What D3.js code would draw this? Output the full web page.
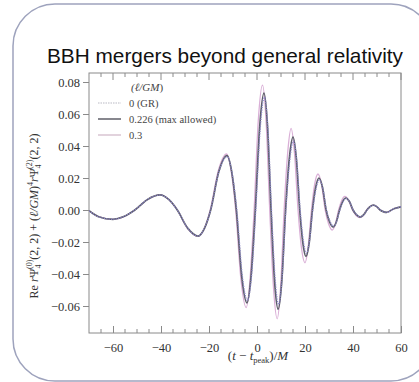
<!DOCTYPE html>
<html>
<head>
<meta charset="utf-8">
<script src="https://cdn.jsdelivr.net/npm/d3@7/dist/d3.min.js"></script>
<style>
  html, body { margin: 0; padding: 0; background: #fff; }
  svg { display: block; }
</style>
</head>
<body>
<svg id="chart" width="419" height="382"></svg>
<script>
// Waveform samples: time (t - t_peak)/M and Re rPsi4 for each coupling value
const tGR = [-70,-66,-60,-55.5,-50.9,-45.6,-40.4,-36.8,-33.2,-28.8,-24.5,-21.9,-19.3,-15.9,-12.4,-10.4,-8.4,-6.2,-4.0,-2.2,-0.5,1.3,3.1,4.6,6.05,7.5,9.0,10.5,12.05,13.6,15.2,16.6,18.0,19.3,20.6,21.9,23.25,24.6,25.95,27.45,28.95,30.4,31.85,33.2,34.5,35.8,37.1,38.6,40.1,41.6,43.1,44.5,45.9,47.2,48.6,50.0,51.4,52.7,54.1,57,60];
const vGR = [-0.0005,-0.0042,-0.0058,-0.0041,0,0.0066,0.0094,0.0066,0,-0.0115,-0.0163,-0.0115,0,0.0237,0.0334,0.0233,0,-0.040,-0.0566,-0.040,0,0.050,0.0706,0.050,0,-0.0417,-0.059,-0.0417,0,0.0304,0.043,0.0304,0,-0.0191,-0.027,-0.0191,0,0.0133,0.0188,0.0133,0,-0.0071,-0.0101,-0.0071,0,0.0051,0.0072,0.0051,0,-0.0030,-0.0043,-0.0030,0,0.0021,0.0030,0.0021,0,-0.0010,-0.0015,0.0008,0.0020];

const tMid = [-70,-66,-60,-55.5,-50.9,-45.6,-40.4,-36.8,-33.2,-28.8,-24.5,-21.9,-19.3,-15.9,-12.5,-10.55,-8.6,-6.4,-4.2,-2.45,-0.7,1.1,2.9,4.4,5.85,7.3,8.8,10.35,11.9,13.45,15,16.4,17.8,19.1,20.4,21.75,23.1,24.45,25.8,27.3,28.8,30.25,31.7,33.05,34.4,35.7,37,38.5,40,41.5,43,44.4,45.8,47.1,48.5,49.9,51.3,52.6,54,57,60];
const vMid = [-0.0005,-0.0042,-0.0058,-0.0041,0,0.0066,0.0094,0.0066,0,-0.0115,-0.0163,-0.0115,0,0.024,0.034,0.024,0,-0.041,-0.058,-0.041,0,0.0516,0.073,0.0516,0,-0.044,-0.062,-0.044,0,0.032,0.0456,0.032,0,-0.0205,-0.029,-0.0205,0,0.0141,0.020,0.0141,0,-0.0075,-0.0106,-0.0075,0,0.0053,0.0075,0.0053,0,-0.0031,-0.0044,-0.0031,0,0.0021,0.0030,0.0021,0,-0.0010,-0.0015,0.0008,0.0020];

const tHigh = [-70,-66,-60,-55.5,-50.9,-45.6,-40.4,-36.8,-33.2,-28.9,-24.6,-22.0,-19.5,-16.1,-12.7,-10.8,-8.9,-6.7,-4.5,-2.9,-1.2,0.5,2.3,3.8,5.3,6.85,8.4,9.85,11.3,12.8,14.2,15.6,17.1,18.5,20.0,21.3,22.7,24.0,25.4,26.9,28.4,29.85,31.3,32.65,34.0,35.3,36.6,38.2,39.8,41.3,42.9,44.3,45.7,47.1,48.5,49.9,51.3,52.6,54,57,60];
const vHigh = [-0.0005,-0.0042,-0.0058,-0.0041,0,0.0066,0.0094,0.0066,0,-0.0117,-0.0165,-0.0117,0,0.0247,0.035,0.0247,0,-0.0431,-0.061,-0.0431,0,0.0551,0.078,0.0551,0,-0.048,-0.068,-0.048,0,0.036,0.051,0.036,0,-0.0233,-0.033,-0.0233,0,0.0159,0.0225,0.0159,0,-0.0088,-0.0125,-0.0088,0,0.006,0.0085,0.006,0,-0.0034,-0.0048,-0.0034,0,0.0022,0.0031,0.0021,0,-0.0010,-0.0015,0.0008,0.0020];

const legendLabels = ["0 (GR)", "0.226 (max allowed)", "0.3"];
const xTicks = [-60, -40, -20, 0, 20, 40, 60];
const yTicks = [-0.06, -0.04, -0.02, 0.00, 0.02, 0.04, 0.06, 0.08];

const svg = d3.select("#chart");

// rounded card frame
svg.append("rect")
  .attr("x", 13).attr("y", 4).attr("width", 420).attr("height", 377)
  .attr("rx", 42).attr("ry", 42)
  .attr("fill", "#fff").attr("stroke", "#9ea3bd").attr("stroke-width", 1.5);

svg.append("text")
  .attr("x", 225).attr("y", 63)
  .attr("text-anchor", "middle")
  .attr("font-family", "'Liberation Sans', Arial, sans-serif")
  .attr("font-size", 20.8)
  .attr("fill", "#111")
  .text("BBH mergers beyond general relativity");

const L = 89, R = 401, T = 73, B = 333;
const x = d3.scaleLinear().domain([-70, 60]).range([L, R]);
const y = d3.scaleLinear().domain([-0.076875, 0.085625]).range([B, T]);

const axisColor = "#8a8a8a";
const serif = "'Liberation Serif', 'DejaVu Serif', serif";

// plot frame
svg.append("rect").attr("x", L).attr("y", T).attr("width", R - L).attr("height", B - T)
  .attr("fill", "none").attr("stroke", axisColor).attr("stroke-width", 1);

// bottom axis: major ticks inward, minor every 5
const minorX = d3.range(-65, 60, 5).filter(v => v % 20 !== 0);
const gB = svg.append("g").attr("transform", `translate(0,${B})`);
gB.call(d3.axisBottom(x).tickValues(xTicks).tickSizeInner(-7).tickSizeOuter(0).tickPadding(10)
  .tickFormat(d => d < 0 ? "\u2212" + Math.abs(d) : d));
gB.attr("font-family", serif).attr("font-size", 12.5);
gB.select(".domain").remove();
gB.selectAll(".tick line").attr("stroke", axisColor);
gB.selectAll(".tick text").attr("fill", "#333");
gB.selectAll(".minor").data(minorX).enter().append("line")
  .attr("x1", d => x(d)).attr("x2", d => x(d)).attr("y1", 0).attr("y2", -4)
  .attr("stroke", axisColor);

// top axis: ticks only, pointing inward
const gT = svg.append("g").attr("transform", `translate(0,${T})`);
gT.selectAll(".maj").data(xTicks).enter().append("line")
  .attr("x1", d => x(d)).attr("x2", d => x(d)).attr("y1", 0).attr("y2", 7).attr("stroke", axisColor);
gT.selectAll(".min").data(minorX).enter().append("line")
  .attr("x1", d => x(d)).attr("x2", d => x(d)).attr("y1", 0).attr("y2", 4).attr("stroke", axisColor);

// left axis
const gL = svg.append("g").attr("transform", `translate(${L},0)`);
gL.call(d3.axisLeft(y).tickValues(yTicks).tickSizeInner(6).tickSizeOuter(0).tickPadding(3)
  .tickFormat(d => (d < 0 ? "\u2212" : "") + Math.abs(d).toFixed(2)));
gL.attr("font-family", serif).attr("font-size", 12.5);
gL.select(".domain").remove();
gL.selectAll(".tick line").attr("stroke", axisColor);
gL.selectAll(".tick text").attr("fill", "#333");

// curves
svg.append("clipPath").attr("id", "plotclip").append("rect")
  .attr("x", L).attr("y", T).attr("width", R - L).attr("height", B - T);

const line = d3.line().x(d => x(d[0])).y(d => y(d[1])).curve(d3.curveMonotoneX);
const series = [
  { t: tHigh, v: vHigh, color: "#d9aed6", width: 1.3, dash: null },
  { t: tMid, v: vMid, color: "#5c5d68", width: 1.7, dash: null },
  { t: tGR, v: vGR, color: "#8b86c9", width: 1.3, dash: "1.2,1.2" }
];
const gC = svg.append("g").attr("clip-path", "url(#plotclip)");
series.forEach(s => {
  gC.append("path")
    .datum(s.t.map((t, i) => [t, s.v[i]]))
    .attr("d", line)
    .attr("fill", "none")
    .attr("stroke", s.color)
    .attr("stroke-width", s.width)
    .attr("stroke-dasharray", s.dash);
});

// legend
const lg = svg.append("g").attr("font-family", serif).attr("fill", "#444");
const hdr = lg.append("text").attr("x", 131).attr("y", 91).attr("font-size", 11).attr("font-style", "italic");
hdr.append("tspan").text("(\u2113/");
hdr.append("tspan").text("GM");
hdr.append("tspan").attr("font-style", "normal").text(")");
const legendStyles = [
  { color: "#b9b9c4", width: 1.2, dash: "1.5,1" },
  { color: "#6a6a72", width: 1.6, dash: null },
  { color: "#d2bccb", width: 1.3, dash: null }
];
legendLabels.forEach((lab, i) => {
  const yy = 103 + i * 16;
  lg.append("line").attr("x1", 98).attr("x2", 121).attr("y1", yy).attr("y2", yy)
    .attr("stroke", legendStyles[i].color).attr("stroke-width", legendStyles[i].width)
    .attr("stroke-dasharray", legendStyles[i].dash);
  lg.append("text").attr("x", 129).attr("y", yy + 3.5).attr("font-size", 10.5).text(lab);
});

// x label
const xl = svg.append("text").attr("x", 258).attr("y", 360).attr("text-anchor", "middle")
  .attr("font-family", serif).attr("font-size", 13).attr("fill", "#333");
xl.append("tspan").text("(");
xl.append("tspan").attr("font-style", "italic").text("t");
xl.append("tspan").text(" \u2212 ");
xl.append("tspan").attr("font-style", "italic").text("t");
xl.append("tspan").attr("font-size", 8.5).attr("dy", 3).text("peak");
xl.append("tspan").attr("dy", -3).text(")/");
xl.append("tspan").attr("font-style", "italic").text("M");

// y label (rotated)
const yl = svg.append("text").attr("transform", "translate(38,216) rotate(-90)")
  .attr("text-anchor", "middle").attr("font-family", serif).attr("font-size", 12).attr("fill", "#333");
yl.append("tspan").text("Re ");
yl.append("tspan").attr("font-style", "italic").text("r");
yl.append("tspan").text("\u03A8");
yl.append("tspan").attr("font-size", 8).attr("dy", 3).text("4");
yl.append("tspan").attr("font-size", 8).attr("dx", -4.5).attr("dy", -9).text("(0)");
yl.append("tspan").attr("dy", 6).text("(2, 2) + (");
yl.append("tspan").attr("font-style", "italic").text("\u2113/GM");
yl.append("tspan").text(")");
yl.append("tspan").attr("font-size", 8).attr("dy", -5).text("4");
yl.append("tspan").attr("dy", 5).attr("font-style", "italic").text("r");
yl.append("tspan").text("\u03A8");
yl.append("tspan").attr("font-size", 8).attr("dy", 3).text("4");
yl.append("tspan").attr("font-size", 8).attr("dx", -4.5).attr("dy", -9).text("(2)");
yl.append("tspan").attr("dy", 6).text("(2, 2)");
</script>
</body>
</html>
